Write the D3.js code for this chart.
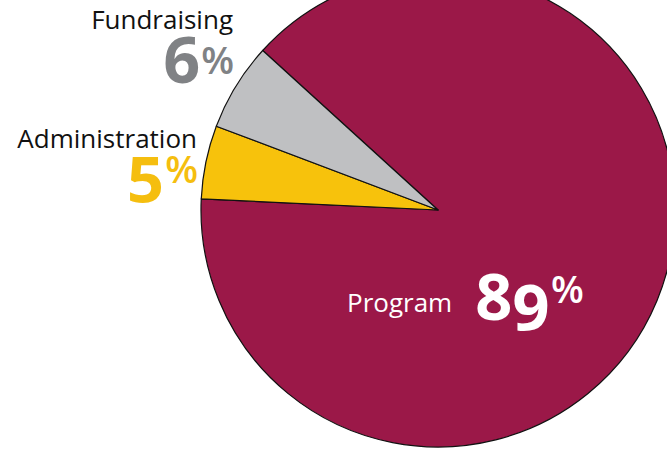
<!DOCTYPE html>
<html>
<head>
<meta charset="utf-8">
<script src="https://cdn.jsdelivr.net/npm/d3@7"></script>
<style>
    body { margin: 0; background: #fff; }
    svg { display: block; font-family: 'Open Sans', sans-serif; }
    .name { font-size: 26px; }
    .pct { font-weight: 700; font-variant-numeric: oldstyle-nums; }
</style>
</head>
<body>
<div class="chart"></div>
<script>
// data
const categories = ['Program', 'Administration', 'Fundraising'];
const shares = [89, 5, 6];
const colours = ['#9b1848', '#f7c20c', '#bfc0c2'];
const labelColours = ['#ffffff', '#f5be0f', '#808285'];
const nameColours = ['#ffffff', '#111111', '#111111'];

// label placement (px, relative to svg)
const labelPos = {
    Program: { nameX: 347, nameY: 312, anchor: 'start', numX: 475, numY: 320, pctDy: -17 },
    Administration: { nameX: 197, nameY: 148, anchor: 'end', numX: 198, numY: 192, pctDy: -9 },
    Fundraising: { nameX: 233, nameY: 29, anchor: 'end', numX: 234, numY: 83, pctDy: -9 }
};

const width = 667;
const height = 449;
const centre = [438, 210];
const radius = 237;

const svg = d3.select('.chart')
    .append('svg')
    .attr('width', width)
    .attr('height', height);

const rows = categories.map((c, i) => ({ name: c, value: shares[i], colour: colours[i], i }));

// first slice starts at about -47.7 degrees (clockwise from 12 o'clock)
const start = -47.7 * Math.PI / 180;
const pie = d3.pie()
    .sort(null)
    .value((d) => d.value)
    .startAngle(start)
    .endAngle(start + 2 * Math.PI);

const arc = d3.arc().innerRadius(0).outerRadius(radius);

svg.append('g')
    .attr('transform', `translate(${centre[0]},${centre[1]})`)
    .selectAll('path')
    .data(pie(rows))
    .enter()
    .append('path')
    .attr('d', arc)
    .attr('fill', (d) => d.data.colour)
    .attr('stroke', '#111')
    .attr('stroke-width', 1.2)
    .attr('stroke-linejoin', 'round');

// labels
rows.forEach((d) => {
    const p = labelPos[d.name];
    svg.append('text')
        .attr('class', 'name')
        .attr('x', p.nameX)
        .attr('y', p.nameY)
        .attr('text-anchor', p.anchor)
        .attr('fill', nameColours[d.i])
        .text(d.name);

    const t = svg.append('text')
        .attr('class', 'pct')
        .attr('x', p.numX)
        .attr('y', p.numY)
        .attr('text-anchor', p.anchor === 'end' ? 'end' : 'start')
        .attr('fill', labelColours[d.i]);
    t.append('tspan').style('font-size', '65px').text(d.value);
    t.append('tspan')
        .style('font-size', '38px')
        .style('font-weight', 600)
        .attr('dy', p.pctDy)
        .attr('dx', 1)
        .text('%');
});
</script>
</body>
</html>
